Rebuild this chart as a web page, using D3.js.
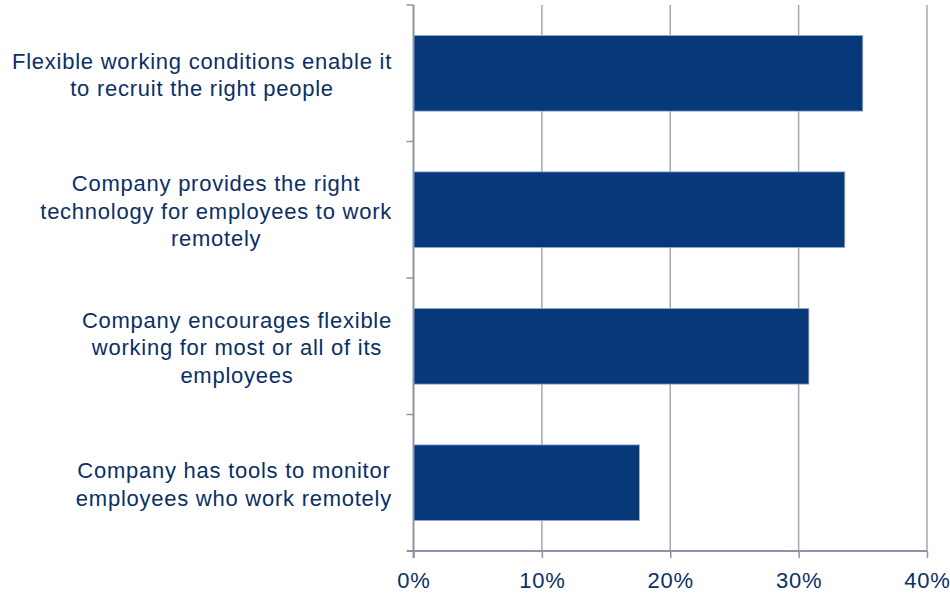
<!DOCTYPE html>
<html>
<head>
<meta charset="utf-8">
<script src="https://cdn.jsdelivr.net/npm/d3@7"></script>
<style>
  html, body { margin: 0; padding: 0; background: #ffffff; }
  svg { display: block; font-family: "Liberation Sans", Arial, sans-serif; }
</style>
</head>
<body>
<svg id="chart" width="950" height="594"></svg>
<script>
// Survey statements (top to bottom) and share of respondents agreeing
const categories = [
  ["Flexible working conditions enable it", "to recruit the right people"],
  ["Company provides the right", "technology for employees to work", "remotely"],
  ["Company encourages flexible", "working for most or all of its", "employees"],
  ["Company has tools to monitor", "employees who work remotely"]
];
const values = [35.0, 33.6, 30.8, 17.6];
const tickValues = [0, 10, 20, 30, 40];
const tickLabels = ["0%", "10%", "20%", "30%", "40%"];

const svg = d3.select("#chart");
const plotLeft = 413.5, plotRight = 927, plotTop = 5, plotBottom = 551;
const textColor = "#0c2f63";
const barColor = "#06387a";
const gridColor = "#a3a7b6";
const axisColor = "#8f93a4";
const fontSize = "22px";
const letterSpacing = "0.75px";

const x = d3.scaleLinear().domain([0, 40]).range([plotLeft, plotRight]);
const y = d3.scaleBand().domain(d3.range(categories.length)).range([plotTop, plotBottom])
  .paddingInner(0.445).paddingOuter(0.2225);

// vertical gridlines
svg.append("g").selectAll("line").data(tickValues.slice(1)).join("line")
  .attr("x1", d => x(d)).attr("x2", d => x(d))
  .attr("y1", plotTop).attr("y2", plotBottom)
  .attr("stroke", gridColor).attr("stroke-width", 1.5);

// bars
svg.append("g").selectAll("rect").data(values).join("rect")
  .attr("x", x(0))
  .attr("y", (d, i) => y(i))
  .attr("width", d => x(d) - x(0))
  .attr("height", y.bandwidth())
  .attr("fill", barColor)
  .attr("stroke", "#9db3d2").attr("stroke-width", 0.8);

// category axis (left): line plus ticks at band boundaries
const step = (plotBottom - plotTop) / categories.length;
const yg = svg.append("g");
yg.append("line").attr("x1", plotLeft).attr("x2", plotLeft)
  .attr("y1", plotTop).attr("y2", plotBottom + 7)
  .attr("stroke", axisColor).attr("stroke-width", 2);
yg.selectAll("line.tick").data(d3.range(categories.length)).join("line")
  .attr("class", "tick")
  .attr("x1", plotLeft - 7).attr("x2", plotLeft)
  .attr("y1", i => plotTop + i * step).attr("y2", i => plotTop + i * step)
  .attr("stroke", axisColor).attr("stroke-width", 1.5);

// value axis (bottom)
const xAxis = d3.axisBottom(x).tickValues(tickValues).tickSize(7)
  .tickFormat((d, i) => tickLabels[i]);
const xg = svg.append("g").attr("transform", `translate(0,${plotBottom})`).call(xAxis);
xg.select(".domain").remove();
xg.append("line").attr("x1", plotLeft - 7).attr("x2", plotRight).attr("y1", 0).attr("y2", 0)
  .attr("stroke", axisColor).attr("stroke-width", 2);
xg.selectAll(".tick line").attr("stroke", axisColor).attr("stroke-width", 1.5);
xg.selectAll(".tick text")
  .attr("y", 37).attr("dy", 0)
  .attr("fill", textColor)
  .style("font-size", fontSize)
  .style("letter-spacing", letterSpacing)
  .style("font-family", '"Liberation Sans", Arial, sans-serif');

// category labels: multi-line, centred lines, block right-aligned to the axis
const lineH = 27.5;
const labelRight = 392;
categories.forEach((lines, i) => {
  const cy = y(i) + y.bandwidth() / 2 + 1.5;
  const g = svg.append("g");
  const texts = lines.map((t, j) => g.append("text")
    .attr("text-anchor", "middle")
    .attr("fill", textColor)
    .style("font-size", fontSize)
    .style("letter-spacing", letterSpacing)
    .attr("y", cy + (j - (lines.length - 1) / 2) * lineH + 7.5)
    .text(t));
  const maxW = d3.max(texts, t => t.node().getComputedTextLength());
  texts.forEach(t => t.attr("x", labelRight - maxW / 2));
});
</script>
</body>
</html>
